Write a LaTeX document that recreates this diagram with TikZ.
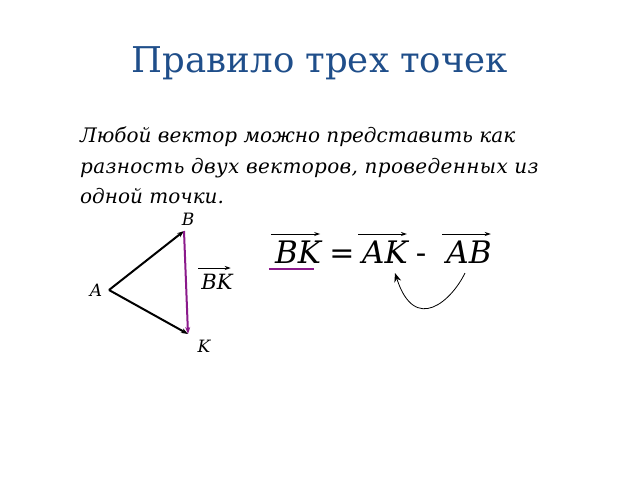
\documentclass[tikz,border=0pt]{standalone}
\usepackage{fontspec}
\setmainfont{DejaVu Serif}
\usetikzlibrary{arrows.meta}
\definecolor{titleblue}{HTML}{1F4E8A}
\definecolor{vecpurple}{HTML}{8B1A8B}
\tikzset{
  titletext/.style={font=\fontsize{35.5}{40}\selectfont, text=titleblue, inner sep=0pt, anchor=base},
  bodytext/.style={font=\fontsize{20}{24}\selectfont\itshape, inner sep=0pt, anchor=base west},
  ptlabel/.style={font=\fontsize{17}{20}\selectfont\itshape, inner sep=0pt},
  formula/.style={font=\fontsize{31}{36}\selectfont\itshape, inner sep=0pt, anchor=base},
  vecarrow/.style={-{Stealth[length=6pt,width=4pt]}, line width=1pt},
  side/.style={-{Stealth[length=7pt,width=5pt]}, line width=2pt},
}
\begin{document}
\begin{tikzpicture}[x=1pt,y=-1pt]
\useasboundingbox (0,0) rectangle (640,480);
\node[titletext] (title) at (320,72) {Правило трех точек};
\node[bodytext] (l1) at (80,142) {Любой вектор можно представить как};
\node[bodytext] (l2) at (80,173) {\addfontfeature{LetterSpace=1.7}разность двух векторов, проведенных из};
\node[bodytext] (l3) at (80,203) {одной точки.};
% triangle
\coordinate (A) at (109,290);
\coordinate (B) at (184,231);
\coordinate (K) at (188,334);
\draw[side] (A) -- (B);
\draw[side] (A) -- (K);
\draw[side, draw=vecpurple, fill=vecpurple] (B) -- (K);
\node[ptlabel] (lB) at (188,219) {B};
\node[ptlabel] (lA) at (96,290) {A};
\node[ptlabel] (lK) at (204,346) {K};
\node[font=\fontsize{21}{24}\selectfont\itshape, inner sep=0pt, anchor=base] (bk) at (217,289) {BK};
\draw[vecarrow] ([xshift=-3pt,yshift=21pt]bk.base west) -- ([xshift=-2pt,yshift=21pt]bk.base east);
% formula
\node[formula] (f1) at (298,263) {BK};
\node[formula, font=\fontsize{30}{36}\selectfont] (eq) at (342,263) {=};
\node[formula] (f2) at (385,263) {AK};
\node[formula, font=\fontsize{31}{36}\selectfont] (mi) at (421,263) {-};
\node[formula] (f3) at (469,263) {AB};
\foreach \n in {f1,f2,f3}{
  \draw[vecarrow] ([xshift=-4pt,yshift=29pt]\n.base west) -- ([xshift=-1pt,yshift=29pt]\n.base east);
}
\draw[vecpurple, line width=2pt] ([xshift=-6pt,yshift=-6pt]f1.base west) -- ([xshift=-7pt,yshift=-6pt]f1.base east);
\coordinate (c1) at (465,273);
\coordinate (c2) at (395,273);
\draw[-{Stealth[length=9pt,width=7pt]}, line width=0.8pt] (c1) .. controls (452,300) and (415,335) .. (c2);
\end{tikzpicture}
\end{document}
